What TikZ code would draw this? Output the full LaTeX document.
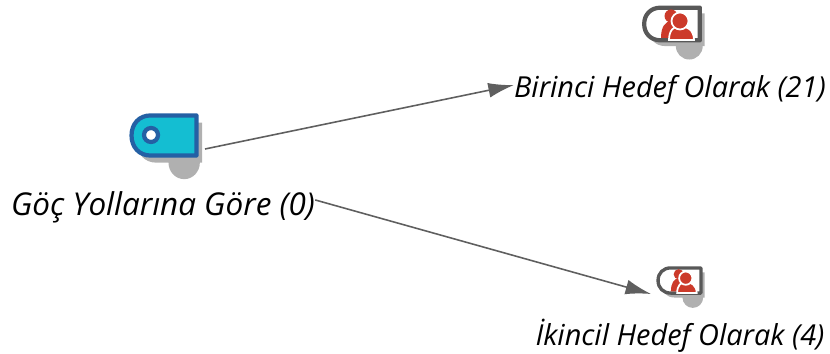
\documentclass[tikz,border=0pt]{standalone}
\usepackage{fontspec}
\setmainfont{Open Sans}
\usetikzlibrary{arrows.meta}
\definecolor{shadegray}{HTML}{B0B0B0}
\definecolor{linegray}{HTML}{5F5F5F}
\definecolor{tagcyan}{HTML}{14BED2}
\definecolor{tagblue}{HTML}{2460A4}
\definecolor{tagdark}{HTML}{585858}
\definecolor{personred}{HTML}{CC3A2A}
\tikzset{
	label/.style={font=\itshape\fontsize{16.45}{18}\selectfont, text=black, inner sep=0pt},
	biglabel/.style={label, font=\itshape\fontsize{17.9}{20}\selectfont},
	link/.style={draw=linegray, line width=0.9pt, -{Latex[length=14.5pt,width=8.5pt,fill=linegray]}},
	pics/tagicon/.style n args={3}{code={
		\fill[shadegray] (18,23) circle (14);
		\fill[shadegray, shift={(5,6)}] (29,-17) -- (-12,-17) .. controls (-22,-17) and (-29,-10) .. (-29,0) .. controls (-29,10) and (-22,17) .. (-12,17) -- (29,17) -- cycle;
		\draw[draw=#2, fill=#1, line width=#3, line join=round] (29,-17) -- (-12,-17) .. controls (-22,-17) and (-29,-10) .. (-29,0) .. controls (-29,10) and (-22,17) .. (-12,17) -- (29,17) -- cycle;
	}},
	pics/people/.style={code={
		\fill[personred] (-1,-8) circle (6.5);
		\fill[personred] (-11,14) .. controls (-11,3) and (-7,-3) .. (0,-3) -- (6,-3) -- (6,14) -- cycle;
		\fill[personred, draw=white, line width=1pt] (-3,16) .. controls (-3,6) and (2,2) .. (8,2) .. controls (15,2) and (22,6) .. (22,16) -- cycle;
		\fill[personred, draw=white, line width=1pt] (8,-3) circle (8.5);
	}}
}
\begin{document}
\begin{tikzpicture}[x=0.02cm, y=-0.02cm]
	\useasboundingbox (0,0) rectangle (830,354);
	%icons
	\pic[xscale=1.12, yscale=1.18] at (164,135.5) {tagicon={tagcyan}{tagblue}{2.4pt}};
	\fill[white, draw=tagblue, line width=2.4pt] (151,135) circle (7);
	\pic[scale=0.96] at (672,24) {tagicon={white}{tagdark}{2.4pt}};
	\pic at (672,24) {people};
	\pic[scale=0.74] at (679.5,280.5) {tagicon={white}{tagdark}{1.9pt}};
	\pic[scale=0.78] at (679.5,280.5) {people};

	%labels
	\node[biglabel] (gocyol) at (163,207) {Göç Yollarına Göre (0)};
	\node[label] (birinci) at (670,90) {Birinci Hedef Olarak (21)};
	\node[label] (ikincil) at (680,336) {İkincil Hedef Olarak (4)};

	%connector ends
	\coordinate (gocicon) at (205,149);
	\coordinate (ikincilicon) at (651,294);
	\draw[link] (gocicon) -- ([yshift=2.8pt]birinci.west);
	\draw[link] ([yshift=4pt]gocyol.east) -- (ikincilicon);
\end{tikzpicture}
\end{document}
